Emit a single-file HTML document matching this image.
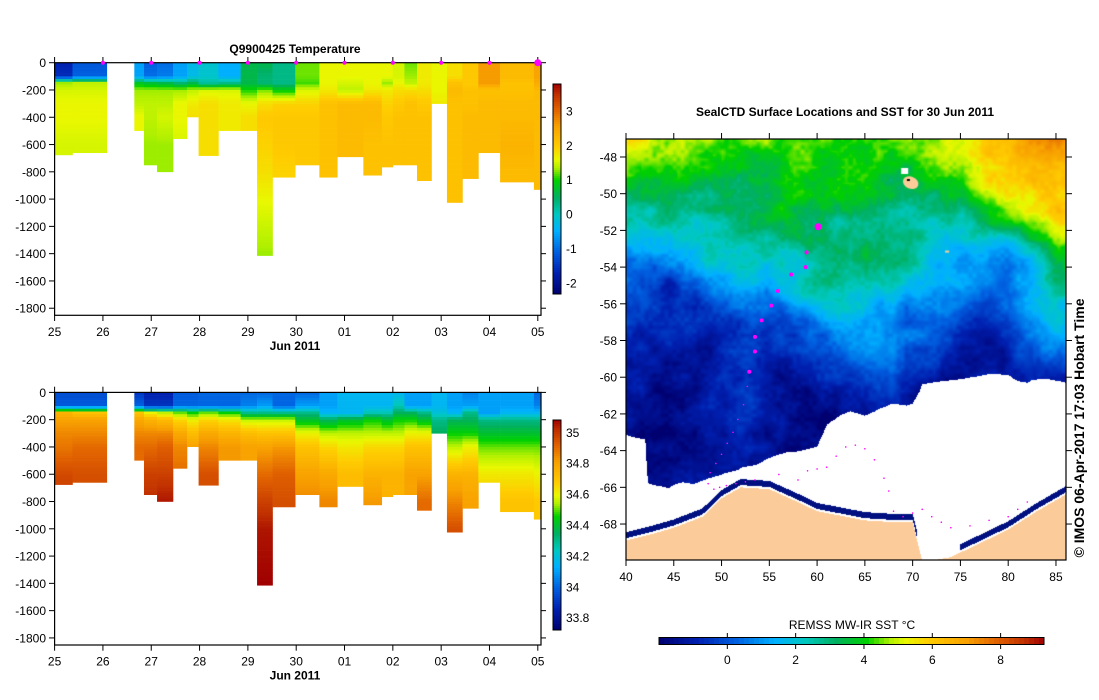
<!DOCTYPE html>
<html><head><meta charset="utf-8">
<style>
body{margin:0;background:#fff;width:1099px;height:700px;overflow:hidden;position:relative;font-family:"Liberation Sans",sans-serif}
svg text{font-family:"Liberation Sans",sans-serif}
#map{position:absolute;left:626px;top:139px}
</style></head>
<body>
<svg id="main" width="1099" height="700" style="position:absolute;left:0;top:0"></svg>
<canvas id="map" width="440" height="421"></canvas>
<svg id="over" width="1099" height="700" style="position:absolute;left:0;top:0"></svg>
<script>
// ---- profile data ----
const depthLevels=[0,100,150,200,300,400,600,800,1000,1400];
const colStart=[0,.37,1.65,1.85,2.12,2.45,2.74,2.98,3.39,3.85,4.19,4.51,4.98,5.48,5.85,6.39,6.77,7.0,7.24,7.5,7.8,8.12,8.44,8.77,9.22,9.92];
const colEnd=[.37,1.08,1.85,2.12,2.45,2.74,2.98,3.39,3.85,4.19,4.51,4.98,5.48,5.85,6.39,6.77,7.0,7.24,7.5,7.8,8.12,8.44,8.77,9.22,9.92,10.06];
const maxDepth=[676,660,498,750,800,557,398,681,498,498,1414,840,750,840,690,825,765,750,750,865,300,1025,850,660,875,930];
const tempProfiles=[
[-1.7,-1.6,1.3,1.5,1.6,1.6,1.5,1.5],[-1.2,-1.1,1.4,1.5,1.6,1.6,1.5,1.5],[-0.6,-0.6,0.8,1.3,1.4,1.6,1.6],
[-1.1,-1.0,0.7,1.3,1.4,1.4,1.3,1.3],[-1.0,-0.9,0.6,1.3,1.4,1.5,1.3,1.3],[-0.6,-0.6,0.4,1.3,1.6,1.6,1.5],
[-0.3,-0.3,0.6,1.4,1.7,1.8],[-0.1,-0.1,0.2,1.5,1.8,1.8,1.8,1.8],[-0.5,-0.5,0.3,1.5,1.7,1.7],
[0.6,0.6,0.6,1.0,1.6,1.8],[0.6,0.4,0.4,1.2,1.8,2.0,1.9,1.8,1.6,1.3],[0.3,0.3,0.3,0.9,1.9,2.0,2.0,1.9],
[1.2,1.2,1.1,1.5,1.9,2.0,2.0,2.0],[1.6,1.6,1.6,1.7,2.1,2.1,2.1,2.1],[1.6,1.6,1.5,1.4,2.2,2.2,2.2],
[1.6,1.6,1.6,1.7,2.2,2.2,2.1,2.1],[1.6,1.6,1.3,1.7,1.9,2.0,2.1,2.1],[1.5,1.5,1.6,1.8,2.0,2.1,2.1],
[1.2,1.3,1.4,1.8,2.1,2.1,2.1],[1.7,1.7,1.7,1.8,2.0,2.1,2.1,2.1],[1.6,1.6,1.6,1.6,1.7],
[1.8,1.8,2.1,2.2,2.1,2.1,2.1,2.1,2.1],[2.0,2.0,2.0,2.1,2.1,2.2,2.2,2.2],[2.6,2.6,2.6,2.1,2.2,2.2,2.2],
[2.2,2.2,2.1,2.1,2.2,2.2,2.3,2.2],[2.5,2.5,2.4,2.2,2.2,2.2,2.2,2.2]];
const salProfiles=[
[33.95,33.98,34.75,34.8,34.85,34.88,34.96,35.0],[33.95,33.98,34.7,34.8,34.85,34.9,34.95],[33.9,34.0,34.7,34.78,34.85,34.9],
[33.85,33.9,34.6,34.75,34.85,34.9,34.98,35.02],[33.85,33.9,34.55,34.72,34.85,34.92,34.98,35.05],[33.98,34.0,34.5,34.65,34.78,34.85,34.9],
[33.98,34.0,34.45,34.6,34.72,34.8],[34.0,34.0,34.5,34.65,34.78,34.85,34.95],[34.0,34.0,34.45,34.62,34.75,34.82],
[34.0,34.05,34.3,34.55,34.72,34.8],[34.0,34.1,34.3,34.55,34.7,34.8,34.9,34.98,35.05,35.08],[34.0,34.0,34.3,34.55,34.7,34.82,34.92,34.95],
[34.0,34.1,34.3,34.4,34.6,34.7,34.8,34.85],[34.1,34.1,34.15,34.35,34.55,34.65,34.78,34.85],[34.15,34.15,34.15,34.4,34.55,34.62,34.72],
[34.15,34.15,34.25,34.45,34.55,34.65,34.75,34.82],[34.15,34.15,34.25,34.4,34.55,34.65,34.75],[34.15,34.25,34.35,34.45,34.55,34.65,34.75],
[34.1,34.1,34.35,34.45,34.6,34.7,34.8],[34.1,34.1,34.3,34.4,34.6,34.7,34.8,34.9],[34.15,34.15,34.2,34.3,34.35],
[34.1,34.1,34.15,34.35,34.45,34.55,34.75,34.85,34.95],[34.05,34.1,34.3,34.35,34.45,34.6,34.75,34.8],[34.1,34.1,34.1,34.3,34.4,34.5,34.62,34.7],
[34.1,34.1,34.15,34.3,34.4,34.5,34.62,34.7],[34.0,34.05,34.15,34.3,34.4,34.5,34.6,34.68]];
const dayLabels=["25","26","27","28","29","30","01","02","03","04","05"];
const depthTicks=[0,-200,-400,-600,-800,-1000,-1200,-1400,-1600,-1800];
const tempTicks=[3,2,1,0,-1,-2];
const salTicks=["35","34.8","34.6","34.4","34.2","34","33.8"];
const salTickVals=[35,34.8,34.6,34.4,34.2,34,33.8];
const surfaceDays=[1,2,3,4,5,6,7,8,9];
// ---- map data ----
const sstLons=[40,45,50,55,60,65,70,75,80,85];
const sstLats=[-47,-49,-51,-53,-55,-57,-59,-61,-63];
const sstGrid=[
[5.5,5,4,4,4,4.5,4,5,6,7.5],
[4.5,4,3.8,3.5,3.5,3.5,3.8,4.5,6,6.5],
[2,2.5,3,3.5,3.5,3.5,3,3,4.5,6],
[1.5,1.5,2,2.5,3,3,2.8,1.5,1,3.8],
[0,-0.5,1,1.5,2.5,2.5,2.2,1.5,0.5,3],
[-0.5,-0.5,-0.5,-0.5,0.5,1,0.5,0,0,2],
[-1,-1,-1,-1,-0.5,0.2,0,-1,-1,0.5],
[-1.3,-1.2,-1.3,-1.3,-1.2,-1,-1.2,-1.5,-1.5,-1.5],
[-1.5,-1.5,-1.5,-1.5,-1.5,-1.5,-1.5,-1.5,-1.5,-1.5]];
const iceLons=[40,42,42.3,47,50,52,55,57,60,61,62,66,70,71,75,80,82,84,86];
const iceLats=[-63.2,-63.3,-65.8,-65.9,-65.3,-64.9,-64.5,-64.0,-63.8,-62.5,-62.0,-61.9,-61.3,-60.3,-60.2,-59.8,-60.3,-59.9,-60.2];
const coastLons=[40,43,45,48,50,52,55,58,60,62,65,68,70,71,72,74,76,78,80,83,86];
const coastLats=[-68.9,-68.5,-68.2,-67.6,-66.6,-66.0,-66.1,-66.8,-67.3,-67.5,-67.8,-67.9,-67.9,-70,-70,-69.8,-69.3,-68.8,-68.3,-67.3,-66.4];
const trackLons=[60.1,58.9,58.8,57.3,55.9,55.2,54.2,53.5,53.5,52.9];
const trackLats=[-51.8,-53.2,-54.0,-54.4,-55.3,-56.1,-56.9,-57.8,-58.6,-59.7];
const trailLons=[52.7,52.3,51.7,51.2,50.6,50.0,49.4,48.8,48.6,49.2,49.8,50.5,51.5,52.5,53.5,56,58,59,60,61,62,63,64,65,66,67,67.5,68,69,70,71,72,73,74,76,78,80,81,82];
const trailLats=[-60.5,-61.5,-62.3,-63.0,-63.6,-64.2,-64.7,-65.2,-65.8,-66.1,-66.0,-65.9,-65.8,-65.7,-65.6,-65.3,-65.6,-65.1,-65.0,-64.9,-64.3,-63.8,-63.7,-63.9,-64.5,-65.5,-66.2,-67.3,-67.6,-67.4,-67.2,-67.6,-67.9,-68.2,-68.1,-67.8,-67.6,-67.2,-66.8];
const lonTicks=[40,45,50,55,60,65,70,75,80,85];
const latTicks=[-48,-50,-52,-54,-56,-58,-60,-62,-64,-66,-68];
const sstTicks=[0,2,4,6,8];

const NS="http://www.w3.org/2000/svg";
const svg=document.getElementById('main');
function mk(tag,attrs,parent){const e=document.createElementNS(NS,tag);for(const k in attrs)e.setAttribute(k,attrs[k]);(parent||svg).appendChild(e);return e;}
const stops=[[0,[0,0,112]],[0.1,[0,32,176]],[0.2,[0,96,224]],[0.3,[0,176,255]],[0.38,[0,200,192]],[0.46,[0,176,96]],[0.54,[0,208,0]],[0.6,[176,240,0]],[0.64,[232,248,0]],[0.7,[255,204,0]],[0.8,[248,160,0]],[0.88,[224,96,0]],[0.95,[192,48,0]],[1,[160,0,0]]];
function cmapRGB(f){f=Math.max(0,Math.min(1,f));for(let i=1;i<stops.length;i++){if(f<=stops[i][0]){const a=stops[i-1],b=stops[i];const t=(f-a[0])/(b[0]-a[0]);return a[1].map((v,k)=>Math.round(v+(b[1][k]-v)*t));}}return stops[stops.length-1][1];}
function cmap(f){const c=cmapRGB(f);return `rgb(${c[0]},${c[1]},${c[2]})`;}
function profVal(p,d){for(let i=1;i<p.length;i++){if(d<=depthLevels[i]){const t=(d-depthLevels[i-1])/(depthLevels[i]-depthLevels[i-1]);return p[i-1]+(p[i]-p[i-1])*t;}}return p[p.length-1];}

function drawSection(oy,profiles,vmin,vmax,title,cbLabels,cbVals,name,cbTop,cbBot){
  const g=mk('g',{});
  
  
  const X=d=>54.6+d*48.32, Y=m=>oy+62.7+m*0.1364;
  for(let c=0;c<colStart.length;c++){
    const x0=X(colStart[c]),x1=X(colEnd[c]);
    for(let d=0;d<maxDepth[c];d+=20){
      const d1=Math.min(d+20,maxDepth[c]);
      const v=profVal(profiles[c],d+10);
      const r=mk('rect',{x:x0,y:Y(d),width:x1-x0+0.3,height:Y(d1)-Y(d)+0.3,fill:cmap((v-vmin)/(vmax-vmin))},g);
      
      
    }
  }
  const fr=mk('rect',{x:54.6,y:oy+62.7,width:486.4,height:252.6,fill:'none',stroke:'#000','stroke-width':1.2});
  
  
  depthTicks.forEach(t=>{const y=Y(-t);mk('line',{x1:49,x2:54.6,y1:y,y2:y,stroke:'#000'});mk('line',{x1:541,x2:546,y1:y,y2:y,stroke:'#000'});
    const tx=mk('text',{x:46,y:y+4.5,'font-size':12,'text-anchor':'end'});tx.textContent=t;
    
    });
  dayLabels.forEach((l,i)=>{const x=X(i);mk('line',{x1:x,x2:x,y1:oy+315.3,y2:oy+321,stroke:'#000'});mk('line',{x1:x,x2:x,y1:oy+62.7,y2:oy+57,stroke:'#000'});
    const tx=mk('text',{x:x,y:oy+336,'font-size':12,'text-anchor':'middle'});tx.textContent=l;
    
    });
  const xl=mk('text',{x:295,y:oy+350,'font-size':12,'font-weight':'bold','text-anchor':'middle'});xl.textContent='Jun 2011';
  
  
  if(title){const tt=mk('text',{x:295,y:oy+53,'font-size':12,'font-weight':'bold','text-anchor':'middle'});tt.textContent=title;
    
    }
  const cb=mk('g',{});
  
  
  const n=105,h=(cbBot-cbTop)/n;
  for(let i=0;i<n;i++){const y=cbTop+i*h;mk('rect',{x:553,y:y,width:8,height:h+0.3,fill:cmap(1-(i+0.5)/n)},cb);}
  mk('rect',{x:553,y:cbTop,width:8,height:cbBot-cbTop,fill:'none',stroke:'#000'},cb);
  cbVals.forEach((v,i)=>{const y=cbBot-(v-vmin)/(vmax-vmin)*(cbBot-cbTop);
    const tx=mk('text',{x:566,y:y+4.5,'font-size':12},cb);tx.textContent=cbLabels[i];
    
    });
}
drawSection(0,tempProfiles,-2.32,3.78,'Q9900425  Temperature',tempTicks.map(String),tempTicks,'temperature-section',84,294);
drawSection(329.7,salProfiles,33.72,35.08,null,salTicks,salTickVals,'salinity-section',420,630);
surfaceDays.forEach(d=>{const m=mk('circle',{cx:54.6+d*48.32,cy:62.7,r:2,fill:'#ff00ff'});
  
  });
{const m=mk('circle',{cx:54.6+10*48.32,cy:62.7,r:3.5,fill:'#ff00ff'});
 
 }

// ---- map ----
const LON0=40,LON1=86.05,LAT0=-47.02,LAT1=-69.96,MW=440,MH=421;
const MX=lon=>626+(lon-LON0)/(LON1-LON0)*MW, MY=lat=>139+(lat-LAT0)/(LAT1-LAT0)*MH;
function interp1(xs,ys,x){if(x<=xs[0])return ys[0];for(let i=1;i<xs.length;i++)if(x<=xs[i]){const t=(x-xs[i-1])/(xs[i]-xs[i-1]);return ys[i-1]+(ys[i]-ys[i-1])*t;}return ys[ys.length-1];}
function sstAt(lon,lat){
  const rowVals=sstGrid.map(r=>interp1(sstLons,r,lon));
  const neg=sstLats.map(v=>-v);return interp1(neg,rowVals,-lat);}
// texture noise (visual only)
let seed=12345;function rnd(){seed=(seed*1103515245+12345)&0x7fffffff;return seed/0x7fffffff;}
function makeNoise(step){const gw=Math.ceil(MW/step)+2,gh=Math.ceil(MH/step)+2,a=[];for(let i=0;i<gw*gh;i++)a.push(rnd()*2-1);
  return (x,y)=>{const fx=x/step,fy=y/step,ix=Math.floor(fx),iy=Math.floor(fy),tx=fx-ix,ty=fy-iy;
    const v=(i,j)=>a[j*gw+i];return (v(ix,iy)*(1-tx)+v(ix+1,iy)*tx)*(1-ty)+(v(ix,iy+1)*(1-tx)+v(ix+1,iy+1)*tx)*ty;};}
const nBig=makeNoise(40),nMid=makeNoise(14),nSmall=makeNoise(4);
const ctx=document.getElementById('map').getContext('2d');
const img=ctx.createImageData(MW,MH);
for(let py=0;py<MH;py++){for(let px=0;px<MW;px++){
  const lon=LON0+(px+0.5)/MW*(LON1-LON0), lat=LAT0+(py+0.5)/MH*(LAT1-LAT0);
  const coast=interp1(coastLons,coastLats,lon), ice=interp1(iceLons,iceLats,lon)+nMid(px,py)*0.25;
  let c;
  if(lat<coast)c=[251,204,154];
  else if(lat<coast+0.12)c=[255,255,255];
  else if(lat<coast+0.45 && !(lon>70.5&&lon<75))c=[0,16,128];
  else if(lat<ice)c=[255,255,255];
  else{const n=nBig(px,py)*0.7+nMid(px,py)*0.45+nSmall(px,py)*0.25;
    c=cmapRGB((sstAt(lon,lat)+n+2.0)/11.27);}
  const k=(py*MW+px)*4;img.data[k]=c[0];img.data[k+1]=c[1];img.data[k+2]=c[2];img.data[k+3]=255;}}
ctx.putImageData(img,0,0);
// Kerguelen
ctx.fillStyle='#fff';ctx.fillRect(MX(68.8)-626,MY(-48.6)-139,7,6);
ctx.fillStyle='#fbcc9a';ctx.beginPath();ctx.ellipse(MX(69.8)-626,MY(-49.4)-139,8,6,0.4,0,Math.PI*2);ctx.fill();
ctx.fillStyle='#000';ctx.fillRect(MX(69.4)-626,MY(-49.2)-139,3,2);
ctx.fillStyle='#fbcc9a';ctx.fillRect(MX(73.4)-626,MY(-53.1)-139,4,2);

const ov=document.getElementById('over');
function mo(tag,attrs){return mk(tag,attrs,ov);}
trailLons.forEach((lo,i)=>{const d=mo('circle',{cx:MX(lo),cy:MY(trailLats[i]),r:0.8,fill:'#ff00ff'});
  
  });
trackLons.forEach((lo,i)=>{const d=mo('circle',{cx:MX(lo),cy:MY(trackLats[i]),r:i===0?3.5:2,fill:'#ff00ff'});
  
  });
{const f=mo('rect',{x:626,y:139,width:MW,height:MH,fill:'none',stroke:'#000','stroke-width':1.2});
 
 }
lonTicks.forEach(l=>{const x=MX(l);mo('line',{x1:x,x2:x,y1:560,y2:566,stroke:'#000'});mo('line',{x1:x,x2:x,y1:139,y2:133,stroke:'#000'});
  const t=mo('text',{x:x,y:581,'font-size':12,'text-anchor':'middle'});t.textContent=l;
  
  });
latTicks.forEach(l=>{const y=MY(l);mo('line',{x1:620,x2:626,y1:y,y2:y,stroke:'#000'});mo('line',{x1:1066,x2:1072,y1:y,y2:y,stroke:'#000'});
  const t=mo('text',{x:617,y:y+4.5,'font-size':12,'text-anchor':'end'});t.textContent=l;
  
  });
{const t=mo('text',{x:845,y:116,'font-size':12,'font-weight':'bold','text-anchor':'middle'});t.textContent='SealCTD Surface Locations and SST for 30 Jun 2011';
 
 }
{const t=mo('text',{x:0,y:0,'font-size':14,'font-weight':'bold','text-anchor':'middle',transform:'translate(1084,428) rotate(-90)'});t.textContent='© IMOS 06-Apr-2017 17:03 Hobart Time';
 
 }
const CB0=659,CB1=1044,SMIN=-2.0,SMAX=9.27;
for(let i=0;i<77;i++){const x=CB0+i*5;mo('rect',{x:x,y:637.5,width:5.3,height:7,fill:cmap((i+0.5)/77)});}
{const f=mo('rect',{x:CB0,y:637.5,width:CB1-CB0,height:7,fill:'none',stroke:'#000'});
 
 }
sstTicks.forEach(v=>{const x=CB0+(v-SMIN)/(SMAX-SMIN)*(CB1-CB0);mo('line',{x1:x,x2:x,y1:644.5,y2:649,stroke:'#000'});mo('line',{x1:x,x2:x,y1:637.5,y2:633,stroke:'#000'});
  const t=mo('text',{x:x,y:664,'font-size':12,'text-anchor':'middle'});t.textContent=v;
  
  });
{const t=mo('text',{x:852,y:629,'font-size':12,'text-anchor':'middle'});t.textContent='REMSS MW-IR SST °C';
 
 }
</script>
</body></html>
